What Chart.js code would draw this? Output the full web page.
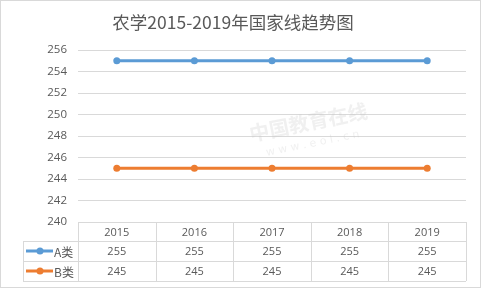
<!DOCTYPE html>
<html><head><meta charset="utf-8">
<script src="https://cdn.jsdelivr.net/npm/chart.js@4"></script>
<style>html,body{margin:0;padding:0;background:#fff;}#wrap{width:481px;height:288px;position:relative;}</style>
</head><body><div id="wrap"><canvas id="c" width="481" height="288"></canvas></div>
<script>
const titleText = '农学2015-2019年国家线趋势图';
const categories = ['2015','2016','2017','2018','2019'];
const seriesNames = ['A类','B类'];
const seriesA = [255,255,255,255,255];
const seriesB = [245,245,245,245,245];
const seriesColors = ['#5b9bd5','#ed7d31'];
const yMin = 240, yMax = 256, yStep = 2;

const txtColor = '#595959';
const gridColor = '#d9d9d9';
const numFont = '11px "Open Sans", "Liberation Sans", sans-serif';

const tablePlugin = {
  id: 'tablePlugin',
  afterDraw(chart) {
    const ctx = chart.ctx, x = chart.scales.x, area = chart.chartArea;
    const n = categories.length;
    const colW = (area.right - area.left) / n;
    const rowH = [19, 20, 20];
    const top = area.bottom;
    const r1 = top + rowH[0], r2 = r1 + rowH[1], r3 = r2 + rowH[2];
    const legL = 23;
    ctx.save();
    ctx.strokeStyle = gridColor; ctx.lineWidth = 1;
    ctx.beginPath();
    ctx.moveTo(area.left, top + 0.5); ctx.lineTo(area.right, top + 0.5);
    [r1, r2, r3].forEach(y => { ctx.moveTo(legL, Math.round(y) + 0.5); ctx.lineTo(area.right, Math.round(y) + 0.5); });
    for (let i = 0; i <= n; i++) {
      const px = Math.round(area.left + i * colW) + 0.5;
      ctx.moveTo(px, top); ctx.lineTo(px, r3);
    }
    ctx.moveTo(legL + 0.5, r1); ctx.lineTo(legL + 0.5, r3);
    ctx.stroke();
    ctx.fillStyle = txtColor; ctx.font = numFont;
    ctx.textAlign = 'center'; ctx.textBaseline = 'middle';
    categories.forEach((c, i) => {
      const cx = x.getPixelForValue(i);
      ctx.fillText(c, cx, (top + r1) / 2 + 1);
      ctx.fillText(String(seriesA[i]), cx, (r1 + r2) / 2 + 1);
      ctx.fillText(String(seriesB[i]), cx, (r2 + r3) / 2 + 1);
    });
    [[r1, r2], [r2, r3]].forEach((rr, k) => {
      const cy = Math.round((rr[0] + rr[1]) / 2);
      ctx.strokeStyle = seriesColors[k]; ctx.lineWidth = 3;
      ctx.beginPath(); ctx.moveTo(26, cy); ctx.lineTo(53, cy); ctx.stroke();
      ctx.fillStyle = seriesColors[k];
      ctx.beginPath(); ctx.arc(40, cy, 3.5, 0, Math.PI * 2); ctx.fill();
      ctx.fillStyle = txtColor; ctx.textAlign = 'left';
      ctx.font = '12px "Noto Sans CJK SC", sans-serif';
      ctx.fillText(seriesNames[k], 54, cy + 1);
    });
    ctx.strokeStyle = gridColor; ctx.lineWidth = 1;
    ctx.strokeRect(0.5, 0.5, chart.width - 1, chart.height - 1);
    ctx.restore();
  },
  beforeDatasetsDraw(chart) {
    const ctx = chart.ctx;
    ctx.save();
    ctx.translate(310, 130);
    ctx.rotate(-0.2);
    ctx.fillStyle = 'rgba(200,200,200,0.28)';
    ctx.font = 'bold 20px "Noto Sans CJK SC", sans-serif';
    ctx.textAlign = 'center'; ctx.textBaseline = 'middle';
    ctx.fillText('中国教育在线', 0, -8);
    ctx.font = '11px "DejaVu Sans", sans-serif';
    ctx.fillText('w w w . e o l . c n', 0, 14);
    ctx.restore();
  }
};

new Chart(document.getElementById('c'), {
  type: 'line',
  data: {
    labels: categories,
    datasets: [
      { label: seriesNames[0], data: seriesA, borderColor: seriesColors[0], backgroundColor: seriesColors[0], borderWidth: 3, pointRadius: 3.5, pointHoverRadius: 3.5, pointBorderWidth: 0 },
      { label: seriesNames[1], data: seriesB, borderColor: seriesColors[1], backgroundColor: seriesColors[1], borderWidth: 3, pointRadius: 3.5, pointHoverRadius: 3.5, pointBorderWidth: 0 }
    ]
  },
  options: {
    responsive: false, animation: false, devicePixelRatio: 1,
    layout: { padding: { left: 0, right: 15, top: 0, bottom: 66 } },
    plugins: {
      legend: { display: false }, tooltip: { enabled: false },
      title: { display: true, text: titleText, color: txtColor,
        font: { size: 17.5, family: '"Noto Sans CJK SC", sans-serif', weight: 'normal', lineHeight: 1.2 },
        padding: { top: 12, bottom: 17 } }
    },
    scales: {
      x: { type: 'category', display: false, offset: true },
      y: { min: yMin, max: yMax,
        ticks: { stepSize: yStep, color: txtColor, padding: 11, font: { size: 11.5, family: '"Open Sans", "Liberation Sans", sans-serif' } },
        grid: { color: gridColor, drawTicks: false },
        border: { display: false },
        afterFit(s) { s.width = 78; } }
    }
  },
  plugins: [tablePlugin]
});
</script></body></html>
